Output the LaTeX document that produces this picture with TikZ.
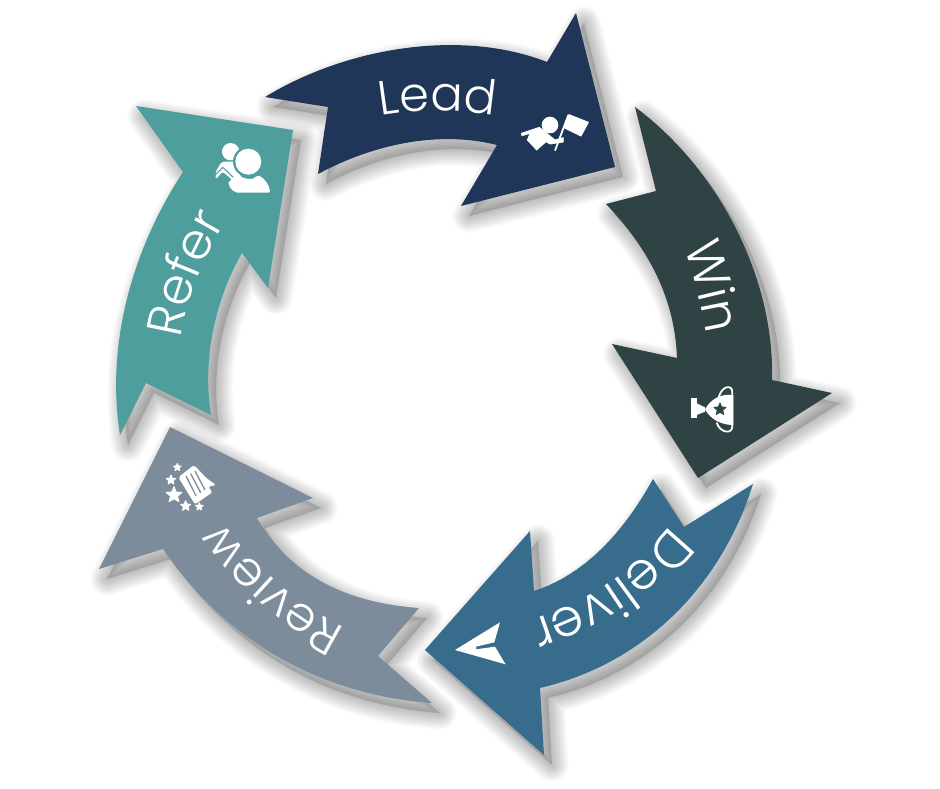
\documentclass[tikz,border=0pt]{standalone}
\usepackage{fontspec}
\setmainfont{Poppins}[UprightFont=* Light]
\usetikzlibrary{decorations.text}
\definecolor{cLead}{HTML}{1F3659}
\definecolor{cWin}{HTML}{2F4344}
\definecolor{cDeliver}{HTML}{386C8C}
\definecolor{cReview}{HTML}{7C8C9A}
\definecolor{cRefer}{HTML}{4E9E9D}
\newcommand\lab{\fontsize{48}{48}\selectfont\color{white}}
\newcommand\labb{\fontsize{50}{50}\selectfont\color{white}}
\newcommand\labc{\fontsize{52}{52}\selectfont\color{white}}
\newcommand\shLead{(265,97) .. controls (345,48) and (460,28) .. (547,62) -- (576,13) -- (615,167) -- (461,206) -- (497,145) .. controls (437,130) and (372,145) .. (318,174) -- (328,107) -- cycle}
\newcommand\shWin{(635,107) .. controls (720,170) and (775,280) .. (772,380) -- (832,393) -- (698,478) -- (612,344) -- (677,358) .. controls (675,300) and (650,250) .. (606,204) -- (656,191) -- cycle}
\newcommand\shDeliver{(753,484) .. controls (720,590) and (640,665) .. (540,688) -- (544,755) -- (425,650) -- (530,531) -- (534,591) .. controls (583,575) and (622,535) .. (653,479) -- (684,527) -- cycle}
\newcommand\shReview{(419,608) -- (378,656) -- (432,703) .. controls (320,695) and (225,640) .. (163,549) -- (99,569) -- (170,427) -- (313,498) -- (257,518) .. controls (292,578) and (350,603) .. (419,608) -- cycle}
\newcommand\shRefer{(120,435) .. controls (105,340) and (135,245) .. (183,172) -- (136,106) -- (293,130) -- (268,288) -- (242,253) .. controls (215,300) and (202,360) .. (211,415) -- (146,383) -- cycle}
\newcommand\pstar[3]{\filldraw[line width=.9pt,line join=round] plot[samples at={0,...,9}] ({#1+#3*(1-0.55*mod(\x,2))*sin(36*\x)},{#2-#3*(1-0.55*mod(\x,2))*cos(36*\x)}) -- cycle;}
\tikzset{
  shadowlayer/.style={draw=black,draw opacity=.024,line join=round,line width=#1},
  arrowbody/.style={line join=miter},
  iconunit/.style={x=.3333pt,y=-.3333pt},
}
\begin{document}
\begin{tikzpicture}[x=1pt,y=-1pt]
\useasboundingbox (0,0) rectangle (940,788);
\fill[white] (0,0) rectangle (940,788);
% shadows
\begin{scope}[shift={(8,10)}]
\foreach \s in {\shLead,\shWin,\shDeliver,\shReview,\shRefer}{
  \fill[black,opacity=.14] \s;
  \foreach \w in {3,6,...,33}{ \path[shadowlayer=\w pt] \s; }
}
\end{scope}
% arrows
\fill[cLead,arrowbody] \shLead;
\fill[cWin,arrowbody] \shWin;
\fill[cDeliver,arrowbody] \shDeliver;
\fill[cReview,arrowbody] \shReview;
\fill[cRefer,arrowbody] \shRefer;
% labels
\path[decorate,decoration={text along path,text align=center,text={|\lab|Lead}}]
  (360,120) .. controls (410,108) and (465,108) .. (515,120);
\path[decorate,decoration={text along path,text align=center,text={|\labb|Win}}]
  (668,210) .. controls (690,255) and (705,310) .. (712,375);
\path[decorate,decoration={text along path,text align=center,text={|\labc|Deliver}}]
  (685,505) .. controls (640,570) and (590,605) .. (505,628);
\path[decorate,decoration={text along path,text align=center,text={|\lab|Review}}]
  (375,642) .. controls (310,615) and (255,575) .. (205,495);
\path[decorate,decoration={text along path,text align=center,text={|\labb|Refer}}]
  (178,366) .. controls (183,305) and (200,260) .. (240,198);
% flag icon
\begin{scope}[shift={(500,90)},iconunit,white]
\fill (150,105) circle (25);
\filldraw[line width=.8pt,line join=round] (64,130) -- (118,112) -- (165,150) -- (190,143) -- (190,156) -- (150,162) -- (138,155) -- (110,180) -- (82,150) -- (90,130) -- (66,137) -- cycle;
\filldraw[line width=1pt,line join=round] (207,74) -- (265,97) -- (243,138) -- (192,113) -- cycle;
\draw[line width=1.8pt,white] (165,182) -- (205,75);
\end{scope}
% trophy icon
\begin{scope}[shift={(670,370)},iconunit,white]
\fill (62,85) rectangle (80,145);
\fill (80,100) -- (105,112) -- (105,125) -- (80,135) -- cycle;
\fill (190,75) .. controls (150,70) and (120,90) .. (105,118) .. controls (120,145) and (150,165) .. (190,165) -- cycle;
\draw[white,line width=1.8pt] (145,85) .. controls (155,45) and (190,40) .. (187,72) -- (187,165) .. controls (190,195) and (150,190) .. (140,158);
\begin{scope}[cWin]\pstar{150}{118}{19}\end{scope}
\end{scope}
% plane icon
\begin{scope}[shift={(440,610)},iconunit]
\fill[white] (45,120) -- (180,37) -- (163,97) -- (108,110) -- (108,118) -- (165,110) -- (197,163) -- cycle;
\end{scope}
% review icon
\begin{scope}[shift={(150,450)},iconunit,white]
\fill[rounded corners=2pt] (85,82) -- (132,45) -- (170,85) -- (198,105) -- (175,110) -- (187,127) -- (135,163) -- cycle;
\draw[cReview,line width=1.3pt] (108,78) -- (138,137) (122,71) -- (152,128) (135,63) -- (165,120);
\pstar{63}{90}{15}
\pstar{72}{135}{25}
\pstar{82}{52}{12}
\pstar{107}{168}{16}
\pstar{148}{170}{12}
\end{scope}
% refer icon
\begin{scope}[shift={(200,130)},iconunit,white]
\fill (92,65) circle (26);
\fill[rounded corners=2pt] (65,95) -- (110,95) -- (125,150) -- (112,188) -- (92,178) -- (84,155) -- (97,150) -- (68,125) -- (47,148) -- (47,125) -- cycle;
\draw[cRefer,line width=1pt] (44,137) -- (68,112) -- (100,142);
\fill[cRefer] (145,95) circle (46);
\fill[rounded corners=2pt] (105,188) -- (100,165) -- (115,135) .. controls (140,150) and (160,150) .. (172,135) .. controls (195,145) and (207,165) .. (211,188) -- cycle;
\fill (145,95) circle (39);
\end{scope}
\end{tikzpicture}
\end{document}
